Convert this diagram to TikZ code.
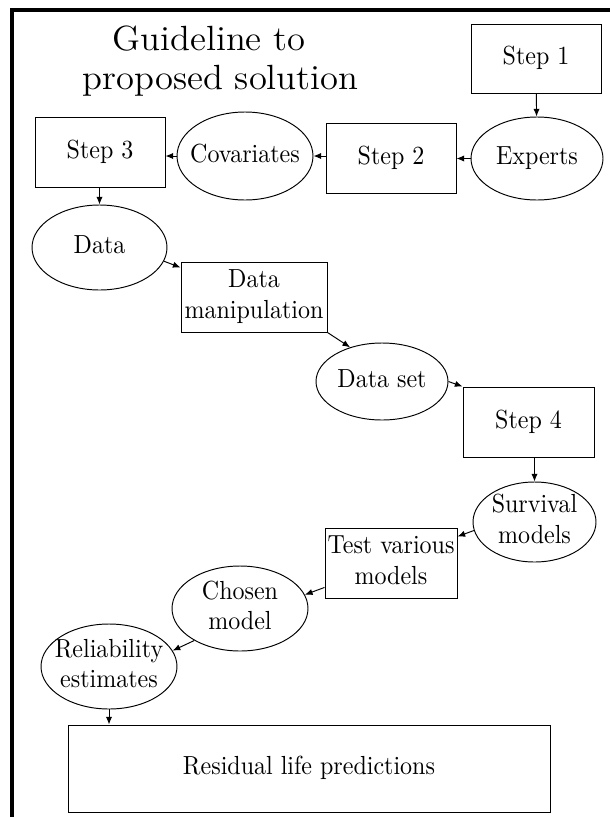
\documentclass[tikz,border=0pt]{standalone}
\usetikzlibrary{shapes.geometric,arrows.meta}
% node text, set a little taller than Latin Modern's own proportions
\newcommand\tallt[1]{\scalebox{1}[1.09]{\begin{tabular}{@{}c@{}}#1\end{tabular}}}
% heading text, set a little wider
\newcommand\widet[1]{\scalebox{1.066}[1.02]{#1}}
\begin{document}
\begin{tikzpicture}[x=0.41667pt,y=-0.41667pt,
  txt/.style={font=\fontsize{10}{11.5}\selectfont},
  box/.style 2 args={draw, rectangle, line width=0.4pt, inner sep=0pt,
    minimum width=#1*0.41667pt, minimum height=#2*0.41667pt, txt},
  oval/.style 2 args={draw, ellipse, line width=0.4pt, inner sep=0pt,
    minimum width=#1*0.83333pt, minimum height=#2*0.83333pt},
  inside/.style={label={[txt, inner sep=0pt]center:\tallt{#1}}},
  arr/.style={line width=0.4pt, -{Latex[length=3.2pt,width=2.6pt]}},
  heading/.style={anchor=base, font=\fontsize{14.3}{16}\selectfont}]
\useasboundingbox (0,0) rectangle (610,817);

% outer frame (left and top edges)
\draw[line width=1.6pt] (12,830) -- (12,10) -- (620,10);

% title
\node[heading] (t1) at (209,50) {\widet{Guideline to}};
\node[heading] (t2) at (220.5,89) {\widet{proposed solution}};

% nodes
\node[box={130}{69}]  (s1)     at (536,58.5)   {\tallt{Step 1}};
\node[oval={66}{41.5}, inside={Experts}]    (exp)  at (537,158.5) {};
\node[box={130}{70}]  (s2)     at (391,158)    {\tallt{Step 2}};
\node[oval={68}{44}, inside={Covariates}]   (cov)  at (245,156) {};
\node[box={130}{70}]  (s3)     at (100,152)    {\tallt{Step 3}};
\node[oval={67.5}{42.5}, inside={Data}]     (data) at (99.5,247.5) {};
\node[box={146}{70}]  (dm)     at (254,297)    {\tallt{Data\\manipulation}};
\node[oval={66}{38.5}, inside={Data set}]   (dset) at (382,381.5) {};
\node[box={131}{70}]  (s4)     at (528.5,422)  {\tallt{Step 4}};
\node[oval={61.5}{40}, inside={Survival\\models}] (surv) at (534.5,522) {};
\node[box={132}{70}]  (test)   at (391,563)    {\tallt{Test various\\models}};
\node[oval={68}{42.5}, inside={Chosen\\model}]   (chosen) at (240,608.5) {};
\node[oval={68}{42.5}, inside={Reliability\\estimates}] (rel) at (109,666.5) {};
\node[box={482}{87}]  (res)    at (309,768.5)  {\tallt{Residual life predictions}};

% connectors
\draw[arr] (s1) -- (exp);
\draw[arr] (exp.west) -- (exp.west -| s2.east);
\draw[arr] (s2.west |- cov.east) -- (cov.east);
\draw[arr] (cov.west) -- (cov.west -| s3.east);
\draw[arr] (s3.south -| data.north) -- (data.north);
\draw[arr] (data.-12.5) -- ([yshift=-2.5pt]dm.north west);
\draw[arr] (dm.south east) -- (dset.133);
\draw[arr] (dset.east) -- (s4.north west);
\draw[arr] (s4.south -| surv.north) -- (surv.north);
\draw[arr] (surv.188) -- ([yshift=-3.75pt]test.north east);
\draw[arr] ([yshift=4.6pt]test.south west) -- (chosen.12.6);
\draw[arr] (chosen.215.5) -- (rel.14.5);
\draw[arr] (rel.south) -- (rel.south |- res.north);
\end{tikzpicture}
\end{document}
